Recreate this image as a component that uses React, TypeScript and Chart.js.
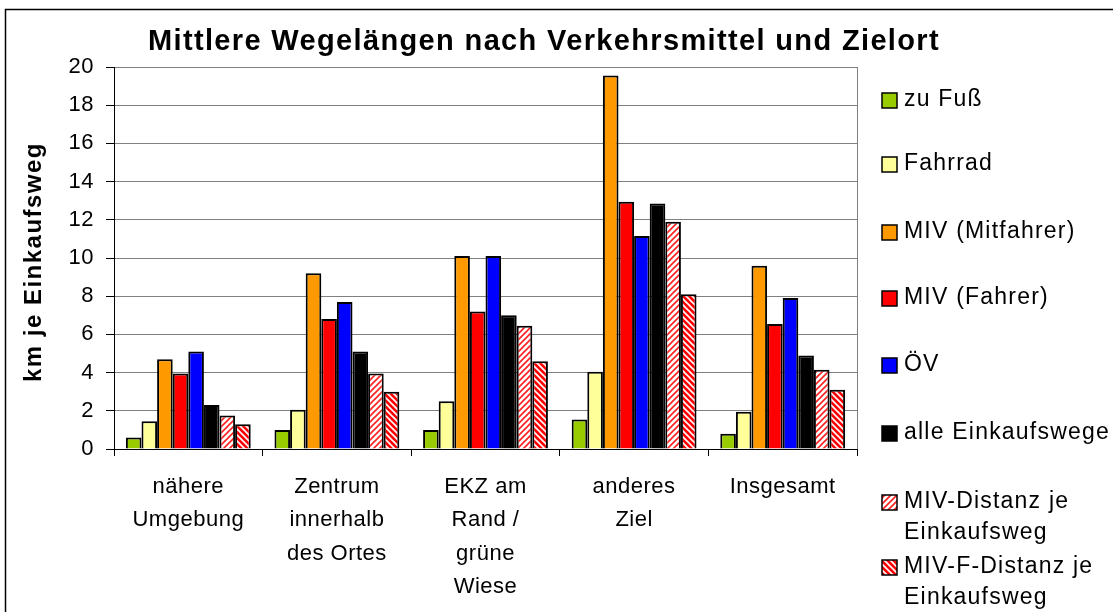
import React, { useEffect, useRef } from "react";
import { Chart, registerables } from "chart.js";

Chart.register(...registerables);

// ---------- data ----------
const categories: string[][] = [
  ["nähere", "Umgebung"],
  ["Zentrum", "innerhalb", "des Ortes"],
  ["EKZ am", "Rand /", "grüne", "Wiese"],
  ["anderes", "Ziel"],
  ["Insgesamt"],
];

const zuFuss = [0.6, 1.0, 1.0, 1.55, 0.8];
const fahrrad = [1.45, 2.05, 2.5, 4.05, 1.95];
const mivMitfahrer = [4.7, 9.2, 10.1, 19.55, 9.6];
const mivFahrer = [3.95, 6.8, 7.2, 12.95, 6.55];
const oev = [5.1, 7.7, 10.1, 11.15, 7.9];
const alleWege = [2.3, 5.1, 7.0, 12.85, 4.9];
const mivDistanz = [1.75, 3.95, 6.45, 11.9, 4.15];
const mivFDistanz = [1.3, 3.0, 4.6, 8.1, 3.1];

const seriesLabels: string[][] = [
  ["zu Fuß"],
  ["Fahrrad"],
  ["MIV (Mitfahrer)"],
  ["MIV (Fahrer)"],
  ["ÖV"],
  ["alle Einkaufswege"],
  ["MIV-Distanz je", "Einkaufsweg"],
  ["MIV-F-Distanz je", "Einkaufsweg"],
];

const yMin = 0;
const yMax = 20;
const yStep = 2;

const chartTitle = "Mittlere Wegelängen nach Verkehrsmittel und Zielort";
const yAxisTitle = "km je Einkaufsweg";

// ---------- styles ----------
const FONT = '"Liberation Sans", Arial, sans-serif';

function makeHatch(bg: string, fg: string, forward: boolean, lw: number): CanvasPattern | string {
  const s = 6;
  const c = document.createElement("canvas");
  c.width = s;
  c.height = s;
  const g = c.getContext("2d");
  if (!g) return bg;
  g.fillStyle = bg;
  g.fillRect(0, 0, s, s);
  g.strokeStyle = fg;
  g.lineWidth = lw;
  g.beginPath();
  if (forward) {
    g.moveTo(-1, s + 1);
    g.lineTo(s + 1, -1);
    g.moveTo(-1, 1);
    g.lineTo(1, -1);
    g.moveTo(s - 1, s + 1);
    g.lineTo(s + 1, s - 1);
  } else {
    g.moveTo(-1, -1);
    g.lineTo(s + 1, s + 1);
    g.moveTo(s - 1, -1);
    g.lineTo(s + 1, 1);
    g.moveTo(-1, s - 1);
    g.lineTo(1, s + 1);
  }
  g.stroke();
  const p = g.createPattern(c, "repeat");
  return p || bg;
}

export default function App() {
  const ref = useRef<HTMLCanvasElement>(null);

  useEffect(() => {
    const canvas = ref.current;
    if (!canvas) return;

    const hatchLight = makeHatch("#ffffff", "#ff2020", true, 1.6);
    const hatchDark = makeHatch("#ff0000", "#ffffff", false, 1.6);

    const colors: (string | CanvasPattern)[] = [
      "#99cc00",
      "#ffff99",
      "#ff9900",
      "#ff0000",
      "#0000ff",
      "#000000",
      hatchLight,
      hatchDark,
    ];
    const values = [zuFuss, fahrrad, mivMitfahrer, mivFahrer, oev, alleWege, mivDistanz, mivFDistanz];

    const legendY = [100, 164, 232, 298, 365, 433, 502, 567];

    const fitText = (ctx: CanvasRenderingContext2D, text: string, target: number) => {
      const c = ctx as any;
      c.letterSpacing = "0px";
      const w = ctx.measureText(text).width;
      c.letterSpacing = `${Math.max(0, (target - w) / text.length)}px`;
    };

    const decor = {
      id: "decor",
      beforeDraw(chart: any) {
        const ctx = chart.ctx as CanvasRenderingContext2D;
        ctx.save();
        ctx.fillStyle = "#ffffff";
        ctx.fillRect(0, 0, chart.width, chart.height);
        ctx.strokeStyle = "#000000";
        ctx.lineWidth = 1.5;
        ctx.strokeRect(5.5, 9.5, chart.width + 10, chart.height + 20);
        ctx.restore();
        (ctx as any).letterSpacing = "0.5px";
      },
      beforeDatasetsDraw(chart: any) {
        const ctx = chart.ctx as CanvasRenderingContext2D;
        const a = chart.chartArea;
        ctx.save();
        ctx.strokeStyle = "#808080";
        ctx.lineWidth = 1;
        ctx.beginPath();
        ctx.moveTo(Math.round(a.right) + 0.5, a.top);
        ctx.lineTo(Math.round(a.right) + 0.5, a.bottom);
        ctx.stroke();
        ctx.restore();
      },
      afterDraw(chart: any) {
        const ctx = chart.ctx as CanvasRenderingContext2D;
        const c = ctx as any;
        ctx.save();
        ctx.fillStyle = "#000000";

        // title
        ctx.font = `bold 29px ${FONT}`;
        fitText(ctx, chartTitle, 792);
        ctx.textAlign = "left";
        ctx.textBaseline = "alphabetic";
        ctx.fillText(chartTitle, 148, 50);

        // y axis title
        ctx.save();
        ctx.font = `bold 24px ${FONT}`;
        fitText(ctx, yAxisTitle, 240);
        ctx.translate(34, 382);
        ctx.rotate(-Math.PI / 2);
        ctx.textAlign = "left";
        ctx.textBaseline = "middle";
        ctx.fillText(yAxisTitle, 0, 0);
        ctx.restore();

        // legend
        ctx.font = `23px ${FONT}`;
        fitText(ctx, "alle Einkaufswege", 206);
        ctx.textAlign = "left";
        ctx.textBaseline = "middle";
        chart.data.datasets.forEach((ds: any, i: number) => {
          const cy = legendY[i];
          ctx.fillStyle = ds.backgroundColor;
          ctx.fillRect(882, cy - 7, 15, 15);
          ctx.strokeStyle = "#000000";
          ctx.lineWidth = 1.5;
          ctx.strokeRect(882, cy - 7, 15, 15);
          ctx.fillStyle = "#000000";
          seriesLabels[i].forEach((line, j) => {
            ctx.fillText(line, 904, cy + j * 31);
          });
        });
        ctx.restore();
        c.letterSpacing = "0px";
      },
    };

    const chart = new Chart(canvas, {
      type: "bar",
      data: {
        labels: categories,
        datasets: values.map((v, i) => ({
          label: seriesLabels[i].join(" "),
          data: v,
          backgroundColor: colors[i] as any,
          borderColor: "#000000",
          borderWidth: 2,
          categoryPercentage: 0.84,
          barPercentage: 1.0,
        })),
      },
      options: {
        responsive: false,
        animation: false,
        layout: { padding: { top: 67, right: 256, left: 0, bottom: 0 } },
        plugins: {
          legend: { display: false },
          title: { display: false },
          tooltip: { enabled: false },
        },
        scales: {
          x: {
            afterFit(scale: any) {
              scale.height = 163;
            },
            grid: {
              drawOnChartArea: false,
              drawTicks: true,
              tickLength: 7,
              tickColor: "#000000",
              offset: true,
            },
            border: { color: "#000000", width: 1 },
            ticks: {
              color: "#000000",
              padding: 14,
              maxRotation: 0,
              autoSkip: false,
              font: { family: FONT, size: 22, lineHeight: 33.5 / 22 },
            },
          },
          y: {
            min: yMin,
            max: yMax,
            afterFit(scale: any) {
              scale.width = 114;
            },
            grid: {
              color: "#808080",
              lineWidth: 1,
              tickLength: 8,
              tickColor: "#000000",
            },
            border: { color: "#000000", width: 1 },
            ticks: {
              stepSize: yStep,
              color: "#000000",
              padding: 12,
              font: { family: FONT, size: 22 },
            },
          },
        },
      },
      plugins: [decor],
    });

    return () => chart.destroy();
  }, []);

  return (
    <div style={{ position: "fixed", left: 0, top: 0, width: 1113, height: 612, background: "#fff" }}>
      <canvas ref={ref} width={1113} height={612} style={{ display: "block" }} />
    </div>
  );
}
